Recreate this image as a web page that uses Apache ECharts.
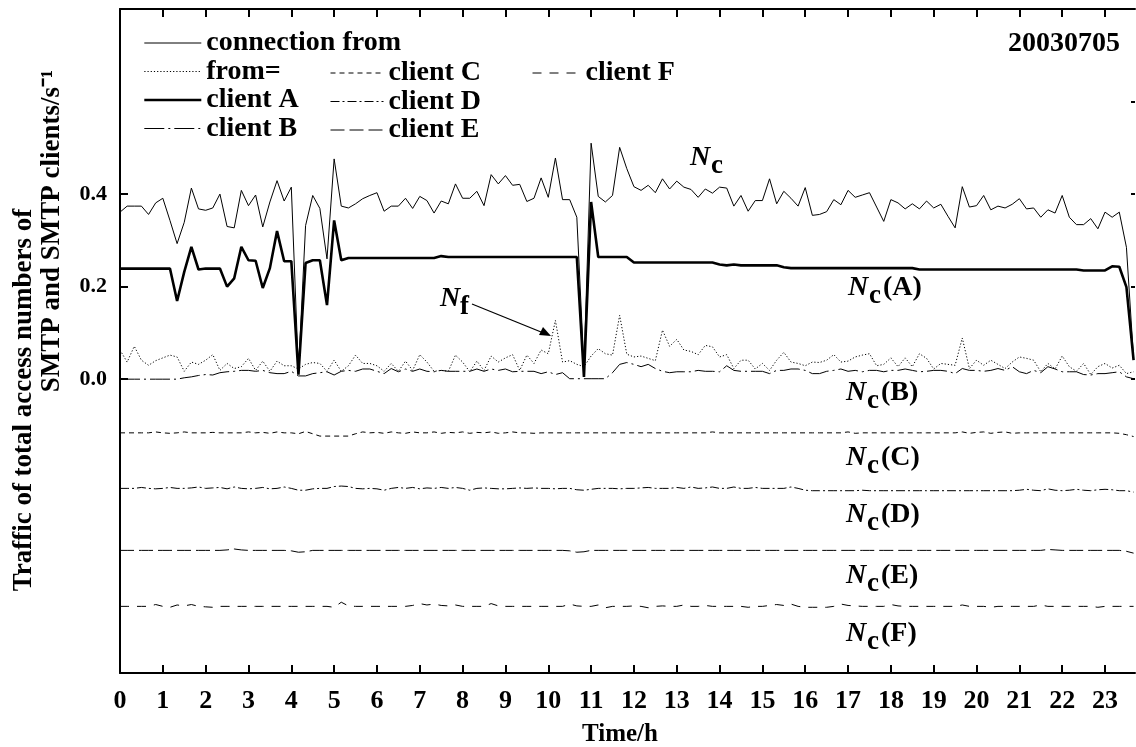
<!DOCTYPE html>
<html>
<head>
<meta charset="utf-8">
<title>SMTP traffic 20030705</title>
<script src="https://cdn.jsdelivr.net/npm/echarts@6/dist/echarts.min.js"></script>
<style>
  html, body { margin: 0; padding: 0; background: #fff; }
  #chart { width: 1136px; height: 747px; }
</style>
</head>
<body>
<div id="chart"></div>
<script>
// samples every 10 minutes, 0:00 .. 23:40
const STEP_H = 1 / 6
const SAMPLES = 143
const hours = []
for (let i = 0; i < SAMPLES; i++) hours.push(+(i * STEP_H).toFixed(4))

const hourLabels = [0, 1, 2, 3, 4, 5, 6, 7, 8, 9, 10, 11, 12, 13, 14, 15, 16, 17, 18, 19, 20, 21, 22, 23]
const yLabels = [0, 0.2, 0.4]
const yRightTicks = [0, 0.2, 0.4, 0.6]

// connection from (N_c)
const nc = [
  0.361, 0.374, 0.374, 0.374, 0.356, 0.381, 0.391, 0.343, 0.293, 0.339,
  0.413, 0.368, 0.365, 0.370, 0.400, 0.330, 0.327, 0.408, 0.375, 0.398,
  0.329, 0.383, 0.429, 0.385, 0.415, 0.017, 0.332, 0.397, 0.369, 0.260,
  0.476, 0.374, 0.370, 0.379, 0.390, 0.397, 0.403, 0.363, 0.374, 0.374,
  0.391, 0.369, 0.395, 0.386, 0.359, 0.385, 0.379, 0.422, 0.391, 0.391,
  0.406, 0.375, 0.442, 0.422, 0.440, 0.419, 0.421, 0.384, 0.391, 0.435,
  0.393, 0.478, 0.388, 0.388, 0.350, 0.027, 0.510, 0.395, 0.383, 0.397,
  0.501, 0.455, 0.416, 0.408, 0.419, 0.403, 0.433, 0.411, 0.428, 0.415,
  0.410, 0.393, 0.411, 0.402, 0.415, 0.413, 0.374, 0.397, 0.363, 0.386,
  0.386, 0.433, 0.379, 0.406, 0.391, 0.374, 0.414, 0.354, 0.356, 0.362,
  0.388, 0.377, 0.408, 0.393, 0.398, 0.403, 0.372, 0.341, 0.388, 0.381,
  0.368, 0.379, 0.368, 0.385, 0.370, 0.378, 0.352, 0.327, 0.416, 0.372,
  0.375, 0.397, 0.366, 0.374, 0.370, 0.378, 0.390, 0.368, 0.370, 0.350,
  0.366, 0.359, 0.397, 0.350, 0.334, 0.334, 0.347, 0.325, 0.361, 0.350,
  0.361, 0.285, 0.045
]

// from= (N_f)
const nf = [
  0.063, 0.037, 0.071, 0.041, 0.030, 0.040, 0.046, 0.052, 0.048, 0.017,
  0.037, 0.032, 0.041, 0.053, 0.019, 0.034, 0.023, 0.027, 0.045, 0.019,
  0.039, 0.017, 0.039, 0.029, 0.029, 0.022, 0.032, 0.036, 0.034, 0.017,
  0.041, 0.017, 0.029, 0.052, 0.034, 0.034, 0.029, 0.017, 0.034, 0.017,
  0.039, 0.019, 0.053, 0.037, 0.017, 0.019, 0.017, 0.052, 0.037, 0.016,
  0.039, 0.019, 0.050, 0.037, 0.046, 0.053, 0.019, 0.052, 0.034, 0.063,
  0.055, 0.127, 0.037, 0.040, 0.032, 0.027, 0.050, 0.066, 0.055, 0.052,
  0.138, 0.054, 0.048, 0.050, 0.045, 0.040, 0.106, 0.071, 0.086, 0.063,
  0.060, 0.053, 0.073, 0.070, 0.048, 0.053, 0.023, 0.041, 0.041, 0.022,
  0.034, 0.019, 0.041, 0.058, 0.037, 0.034, 0.029, 0.037, 0.036, 0.041,
  0.053, 0.037, 0.039, 0.048, 0.052, 0.055, 0.029, 0.032, 0.046, 0.027,
  0.046, 0.027, 0.055, 0.045, 0.022, 0.034, 0.032, 0.030, 0.089, 0.023,
  0.041, 0.030, 0.041, 0.032, 0.023, 0.037, 0.048, 0.045, 0.041, 0.016,
  0.034, 0.022, 0.050, 0.027, 0.017, 0.034, 0.010, 0.027, 0.034, 0.024,
  0.030, 0.012, 0.016
]

const clientA = [
  0.239, 0.239, 0.239, 0.239, 0.239, 0.239, 0.239, 0.239, 0.169, 0.232,
  0.286, 0.237, 0.239, 0.239, 0.239, 0.200, 0.218, 0.286, 0.257, 0.256,
  0.197, 0.240, 0.320, 0.255, 0.255, 0.010, 0.251, 0.257, 0.257, 0.160,
  0.343, 0.257, 0.262, 0.262, 0.262, 0.262, 0.262, 0.262, 0.262, 0.262,
  0.262, 0.262, 0.262, 0.262, 0.262, 0.266, 0.264, 0.264, 0.264, 0.264,
  0.264, 0.264, 0.264, 0.264, 0.264, 0.264, 0.264, 0.264, 0.264, 0.264,
  0.264, 0.264, 0.264, 0.264, 0.264, 0.005, 0.383, 0.264, 0.264, 0.264,
  0.264, 0.264, 0.252, 0.252, 0.252, 0.252, 0.252, 0.252, 0.252, 0.252,
  0.252, 0.252, 0.252, 0.252, 0.248, 0.246, 0.248, 0.246, 0.246, 0.246,
  0.246, 0.246, 0.246, 0.242, 0.240, 0.240, 0.240, 0.240, 0.240, 0.240,
  0.240, 0.240, 0.240, 0.240, 0.240, 0.240, 0.240, 0.240, 0.240, 0.240,
  0.240, 0.240, 0.237, 0.237, 0.237, 0.237, 0.237, 0.237, 0.237, 0.237,
  0.237, 0.237, 0.237, 0.237, 0.237, 0.237, 0.237, 0.237, 0.237, 0.237,
  0.237, 0.237, 0.237, 0.237, 0.237, 0.235, 0.235, 0.235, 0.235, 0.244,
  0.243, 0.199, 0.041
]

const clientB = [
  0.000, 0.000, 0.000, 0.000, 0.000, 0.000, 0.000, 0.000, 0.000, 0.003,
  0.005, 0.008, 0.010, 0.009, 0.014, 0.016, 0.017, 0.019, 0.019, 0.017,
  0.019, 0.014, 0.012, 0.012, 0.017, 0.007, 0.007, 0.012, 0.014, 0.016,
  0.009, 0.017, 0.019, 0.017, 0.022, 0.022, 0.017, 0.012, 0.023, 0.016,
  0.022, 0.017, 0.022, 0.017, 0.016, 0.019, 0.017, 0.017, 0.017, 0.017,
  0.022, 0.017, 0.022, 0.019, 0.022, 0.016, 0.017, 0.017, 0.017, 0.012,
  0.016, 0.010, 0.014, 0.001, 0.001, 0.001, 0.001, 0.001, 0.001, 0.014,
  0.032, 0.036, 0.032, 0.027, 0.032, 0.023, 0.017, 0.014, 0.016, 0.016,
  0.016, 0.019, 0.017, 0.017, 0.016, 0.029, 0.019, 0.017, 0.017, 0.017,
  0.017, 0.012, 0.019, 0.019, 0.022, 0.022, 0.019, 0.012, 0.012, 0.017,
  0.019, 0.022, 0.017, 0.019, 0.016, 0.019, 0.019, 0.016, 0.019, 0.019,
  0.022, 0.019, 0.016, 0.017, 0.019, 0.019, 0.017, 0.012, 0.023, 0.019,
  0.019, 0.017, 0.019, 0.023, 0.019, 0.027, 0.016, 0.012, 0.019, 0.014,
  0.027, 0.022, 0.016, 0.016, 0.016, 0.010, 0.009, 0.012, 0.012, 0.014,
  0.016, 0.005, 0.001
]

const clientC = [
  -0.116, -0.116, -0.116, -0.116, -0.116, -0.114, -0.116, -0.117, -0.116, -0.114,
  -0.116, -0.116, -0.116, -0.115, -0.116, -0.116, -0.116, -0.116, -0.114, -0.116,
  -0.115, -0.117, -0.114, -0.116, -0.116, -0.118, -0.113, -0.118, -0.123, -0.123,
  -0.123, -0.123, -0.123, -0.118, -0.114, -0.116, -0.115, -0.117, -0.114, -0.116,
  -0.117, -0.114, -0.116, -0.116, -0.114, -0.117, -0.115, -0.116, -0.114, -0.117,
  -0.115, -0.116, -0.114, -0.117, -0.116, -0.114, -0.116, -0.116, -0.117, -0.116,
  -0.116, -0.116, -0.116, -0.116, -0.116, -0.116, -0.116, -0.116, -0.116, -0.116,
  -0.116, -0.116, -0.116, -0.116, -0.116, -0.116, -0.116, -0.116, -0.116, -0.116,
  -0.116, -0.116, -0.116, -0.114, -0.116, -0.116, -0.116, -0.116, -0.116, -0.116,
  -0.116, -0.116, -0.116, -0.116, -0.116, -0.116, -0.116, -0.116, -0.116, -0.116,
  -0.116, -0.116, -0.114, -0.117, -0.116, -0.116, -0.116, -0.116, -0.116, -0.116,
  -0.116, -0.116, -0.116, -0.116, -0.116, -0.116, -0.116, -0.116, -0.114, -0.117,
  -0.115, -0.114, -0.117, -0.115, -0.114, -0.117, -0.116, -0.116, -0.116, -0.116,
  -0.116, -0.116, -0.116, -0.116, -0.116, -0.116, -0.116, -0.116, -0.116, -0.116,
  -0.117, -0.120, -0.124
]

const clientD = [
  -0.236, -0.236, -0.236, -0.234, -0.236, -0.237, -0.236, -0.234, -0.236, -0.236,
  -0.235, -0.233, -0.236, -0.235, -0.234, -0.237, -0.233, -0.236, -0.237, -0.236,
  -0.234, -0.237, -0.236, -0.233, -0.236, -0.240, -0.240, -0.237, -0.236, -0.236,
  -0.232, -0.231, -0.232, -0.236, -0.237, -0.236, -0.237, -0.240, -0.236, -0.234,
  -0.236, -0.234, -0.237, -0.235, -0.236, -0.234, -0.236, -0.234, -0.236, -0.240,
  -0.236, -0.235, -0.236, -0.237, -0.237, -0.236, -0.235, -0.236, -0.235, -0.236,
  -0.236, -0.237, -0.236, -0.236, -0.239, -0.240, -0.238, -0.236, -0.236, -0.236,
  -0.237, -0.236, -0.236, -0.235, -0.234, -0.236, -0.236, -0.236, -0.234, -0.236,
  -0.233, -0.236, -0.235, -0.233, -0.236, -0.236, -0.233, -0.236, -0.236, -0.234,
  -0.236, -0.236, -0.236, -0.236, -0.233, -0.236, -0.240, -0.241, -0.241, -0.241,
  -0.241, -0.241, -0.241, -0.241, -0.240, -0.241, -0.241, -0.241, -0.241, -0.241,
  -0.241, -0.241, -0.241, -0.241, -0.241, -0.241, -0.241, -0.241, -0.241, -0.241,
  -0.241, -0.241, -0.241, -0.241, -0.241, -0.241, -0.240, -0.238, -0.240, -0.241,
  -0.237, -0.240, -0.241, -0.240, -0.238, -0.240, -0.241, -0.239, -0.238, -0.239,
  -0.241, -0.241, -0.244
]

const clientE = [
  -0.370, -0.370, -0.370, -0.370, -0.370, -0.370, -0.370, -0.370, -0.370, -0.370,
  -0.370, -0.370, -0.370, -0.370, -0.370, -0.369, -0.367, -0.369, -0.370, -0.370,
  -0.370, -0.370, -0.370, -0.370, -0.371, -0.374, -0.373, -0.370, -0.370, -0.370,
  -0.370, -0.370, -0.370, -0.370, -0.370, -0.370, -0.370, -0.370, -0.370, -0.370,
  -0.370, -0.370, -0.370, -0.370, -0.370, -0.370, -0.370, -0.370, -0.370, -0.370,
  -0.370, -0.370, -0.370, -0.370, -0.370, -0.370, -0.370, -0.370, -0.370, -0.370,
  -0.370, -0.370, -0.370, -0.371, -0.374, -0.373, -0.370, -0.370, -0.370, -0.370,
  -0.370, -0.370, -0.370, -0.370, -0.370, -0.370, -0.370, -0.370, -0.370, -0.370,
  -0.370, -0.370, -0.370, -0.370, -0.370, -0.370, -0.370, -0.370, -0.370, -0.370,
  -0.370, -0.370, -0.370, -0.370, -0.370, -0.370, -0.370, -0.370, -0.370, -0.370,
  -0.370, -0.370, -0.370, -0.370, -0.370, -0.370, -0.370, -0.370, -0.370, -0.370,
  -0.370, -0.370, -0.370, -0.370, -0.370, -0.370, -0.370, -0.370, -0.370, -0.370,
  -0.370, -0.370, -0.370, -0.370, -0.370, -0.370, -0.370, -0.370, -0.370, -0.370,
  -0.368, -0.369, -0.370, -0.370, -0.370, -0.370, -0.370, -0.370, -0.370, -0.370,
  -0.370, -0.372, -0.376
]

const clientF = [
  -0.491, -0.491, -0.491, -0.491, -0.491, -0.487, -0.491, -0.493, -0.488, -0.490,
  -0.487, -0.491, -0.492, -0.493, -0.491, -0.491, -0.491, -0.491, -0.491, -0.491,
  -0.491, -0.491, -0.491, -0.491, -0.491, -0.491, -0.491, -0.491, -0.491, -0.491,
  -0.493, -0.482, -0.490, -0.491, -0.491, -0.491, -0.491, -0.491, -0.491, -0.491,
  -0.491, -0.489, -0.485, -0.488, -0.486, -0.489, -0.490, -0.488, -0.491, -0.491,
  -0.491, -0.491, -0.485, -0.490, -0.491, -0.491, -0.491, -0.491, -0.491, -0.491,
  -0.491, -0.491, -0.491, -0.486, -0.490, -0.491, -0.491, -0.488, -0.494, -0.491,
  -0.491, -0.491, -0.490, -0.491, -0.494, -0.491, -0.490, -0.491, -0.491, -0.488,
  -0.491, -0.491, -0.489, -0.491, -0.491, -0.491, -0.491, -0.491, -0.493, -0.491,
  -0.491, -0.489, -0.487, -0.489, -0.486, -0.491, -0.493, -0.493, -0.493, -0.493,
  -0.491, -0.486, -0.489, -0.490, -0.491, -0.491, -0.491, -0.491, -0.487, -0.490,
  -0.491, -0.491, -0.491, -0.491, -0.491, -0.491, -0.491, -0.491, -0.488, -0.491,
  -0.491, -0.491, -0.493, -0.491, -0.491, -0.491, -0.491, -0.491, -0.491, -0.488,
  -0.491, -0.491, -0.491, -0.491, -0.491, -0.491, -0.491, -0.493, -0.491, -0.491,
  -0.491, -0.491, -0.491
]

const FONT = 'Liberation Serif'
const BLACK = '#000'

const lineTypes = {
  'connection from': { width: 1, type: 'solid' },
  'from=': { width: 1, type: [1.2, 2] },
  'client A': { width: 2.6, type: 'solid' },
  'client B': { width: 1, type: [20, 4, 2, 4] },
  'client C': { width: 1, type: [5, 4] },
  'client D': { width: 1, type: [9, 3, 2, 3] },
  'client E': { width: 1, type: [14, 5] },
  'client F': { width: 1, type: [9, 8] },
}

function pairs(values) {
  return hours.map((h, i) => [h, values[i]])
}

function lineSeries(name, values) {
  const ls = lineTypes[name]
  return {
    name: name,
    type: 'line',
    data: pairs(values),
    symbol: 'none',
    showSymbol: false,
    silent: true,
    lineStyle: { color: BLACK, width: ls.width, type: ls.type },
    itemStyle: { color: BLACK },
  }
}

function legendBlock(names, left, top, iconWidth, textGap) {
  return {
    data: names.map((n) => ({
      name: n,
      itemStyle: { opacity: 0 },
      lineStyle: { color: BLACK, width: lineTypes[n].width, type: lineTypes[n].type, opacity: 1 },
    })),
    orient: 'vertical',
    left: left,
    top: top,
    padding: 0,
    itemWidth: iconWidth,
    itemHeight: 14,
    itemGap: 0.5,
    itemTextGap: textGap,
    selectedMode: false,
    itemStyle: { opacity: 0 },
    textStyle: { fontFamily: FONT, fontWeight: 'bold', fontSize: 28, lineHeight: 28, color: BLACK },
  }
}

// N with a bold subscript, plus optional "(X)"
function ncLabel(x, baseline, sub, tail) {
  const out = [
    { type: 'text', x: x, y: baseline - 9, style: { text: 'N', fontFamily: FONT, fontStyle: 'italic', fontWeight: 'bold', fontSize: 28, fill: BLACK, verticalAlign: 'middle' } },
    { type: 'text', x: x + 21, y: baseline - 1, style: { text: sub, fontFamily: FONT, fontWeight: 'bold', fontSize: 27, fill: BLACK, verticalAlign: 'middle' } },
  ]
  if (tail) {
    out.push({ type: 'text', x: x + 35, y: baseline - 9, style: { text: tail, fontFamily: FONT, fontWeight: 'bold', fontSize: 28, fill: BLACK, verticalAlign: 'middle' } })
  }
  return out
}

const chart = echarts.init(document.getElementById('chart'), null, { renderer: 'canvas' })

const axisLabelStyle = { fontFamily: FONT, fontWeight: 'bold', color: BLACK }

const option = {
  backgroundColor: '#fff',
  animation: false,
  grid: { left: 120, right: 1, top: 9, bottom: 74 },
  legend: [
    legendBlock(['connection from', 'from=', 'client A', 'client B'], 143, 29, 57, 8),
    legendBlock(['client C', 'client D', 'client E'], 330, 59, 53, 12),
    legendBlock(['client F'], 532, 59, 48, 17),
  ],
  xAxis: [
    {
      type: 'value',
      position: 'bottom',
      min: 0,
      max: 23.7,
      axisLine: { onZero: false, lineStyle: { color: BLACK, width: 2 } },
      axisTick: { inside: true, length: 8, customValues: hourLabels.slice(1), lineStyle: { color: BLACK, width: 2 } },
      axisLabel: Object.assign({ fontSize: 26, margin: 15, customValues: hourLabels }, axisLabelStyle),
      splitLine: { show: false },
    },
    {
      type: 'value',
      position: 'top',
      min: 0,
      max: 23.7,
      axisLine: { onZero: false, lineStyle: { color: BLACK, width: 2 } },
      axisTick: { inside: true, length: 8, customValues: hourLabels.slice(1), lineStyle: { color: BLACK, width: 2 } },
      axisLabel: { show: false },
      splitLine: { show: false },
    },
  ],
  yAxis: [
    {
      type: 'value',
      position: 'left',
      min: -0.635,
      max: 0.8,
      axisLine: { show: true, onZero: false, lineStyle: { color: BLACK, width: 2 } },
      axisTick: { show: true, inside: true, length: 8, customValues: yLabels, lineStyle: { color: BLACK, width: 2 } },
      axisLabel: Object.assign({ fontSize: 22, margin: 13, customValues: yLabels, formatter: (v) => v.toFixed(1) }, axisLabelStyle),
      splitLine: { show: false },
    },
    {
      type: 'value',
      position: 'right',
      min: -0.635,
      max: 0.8,
      axisLine: { show: false, onZero: false },
      axisTick: { show: true, inside: true, length: 4, customValues: yRightTicks, lineStyle: { color: BLACK, width: 2 } },
      axisLabel: { show: false },
      splitLine: { show: false },
    },
  ],
  series: [
    lineSeries('connection from', nc),
    lineSeries('from=', nf),
    lineSeries('client A', clientA),
    lineSeries('client B', clientB),
    lineSeries('client C', clientC),
    lineSeries('client D', clientD),
    lineSeries('client E', clientE),
    lineSeries('client F', clientF),
  ],
  graphic: [
    { type: 'text', x: 1120, y: 44, style: { text: '20030705', fontFamily: FONT, fontWeight: 'bold', fontSize: 28, fill: BLACK, align: 'right', verticalAlign: 'middle' } },
    { type: 'text', x: 620, y: 735, style: { text: 'Time/h', fontFamily: FONT, fontWeight: 'bold', fontSize: 25, fill: BLACK, align: 'center', verticalAlign: 'middle' } },
    { type: 'text', x: 24, y: 400, rotation: Math.PI / 2, style: { text: 'Traffic of total access numbers of', fontFamily: FONT, fontWeight: 'bold', fontSize: 27, fill: BLACK, align: 'center', verticalAlign: 'middle' } },
    { type: 'text', x: 52, y: 70, rotation: Math.PI / 2, style: { text: 'SMTP and SMTP clients/s\u207B\u00B9', fontFamily: FONT, fontWeight: 'bold', fontSize: 27, fill: BLACK, align: 'right', verticalAlign: 'middle' } },
    // arrow pointing at the N_f peak
    { type: 'line', shape: { x1: 472, y1: 304, x2: 546, y2: 334 }, style: { stroke: BLACK, lineWidth: 1.3 } },
    { type: 'polygon', shape: { points: [[551, 336], [539, 335], [543, 327]] }, style: { fill: BLACK } },
  ]
    .concat(ncLabel(690, 167, 'c'))
    .concat([
      { type: 'text', x: 440, y: 299, style: { text: 'N', fontFamily: FONT, fontStyle: 'italic', fontWeight: 'bold', fontSize: 28, fill: BLACK, verticalAlign: 'middle' } },
      { type: 'text', x: 460, y: 307, style: { text: 'f', fontFamily: FONT, fontWeight: 'bold', fontSize: 27, fill: BLACK, verticalAlign: 'middle' } },
    ])
    .concat(ncLabel(848, 297, 'c', '(A)'))
    .concat(ncLabel(846, 402, 'c', '(B)'))
    .concat(ncLabel(846, 467, 'c', '(C)'))
    .concat(ncLabel(846, 524, 'c', '(D)'))
    .concat(ncLabel(846, 585, 'c', '(E)'))
    .concat(ncLabel(846, 643, 'c', '(F)')),
}

chart.setOption(option)
</script>
</body>
</html>
